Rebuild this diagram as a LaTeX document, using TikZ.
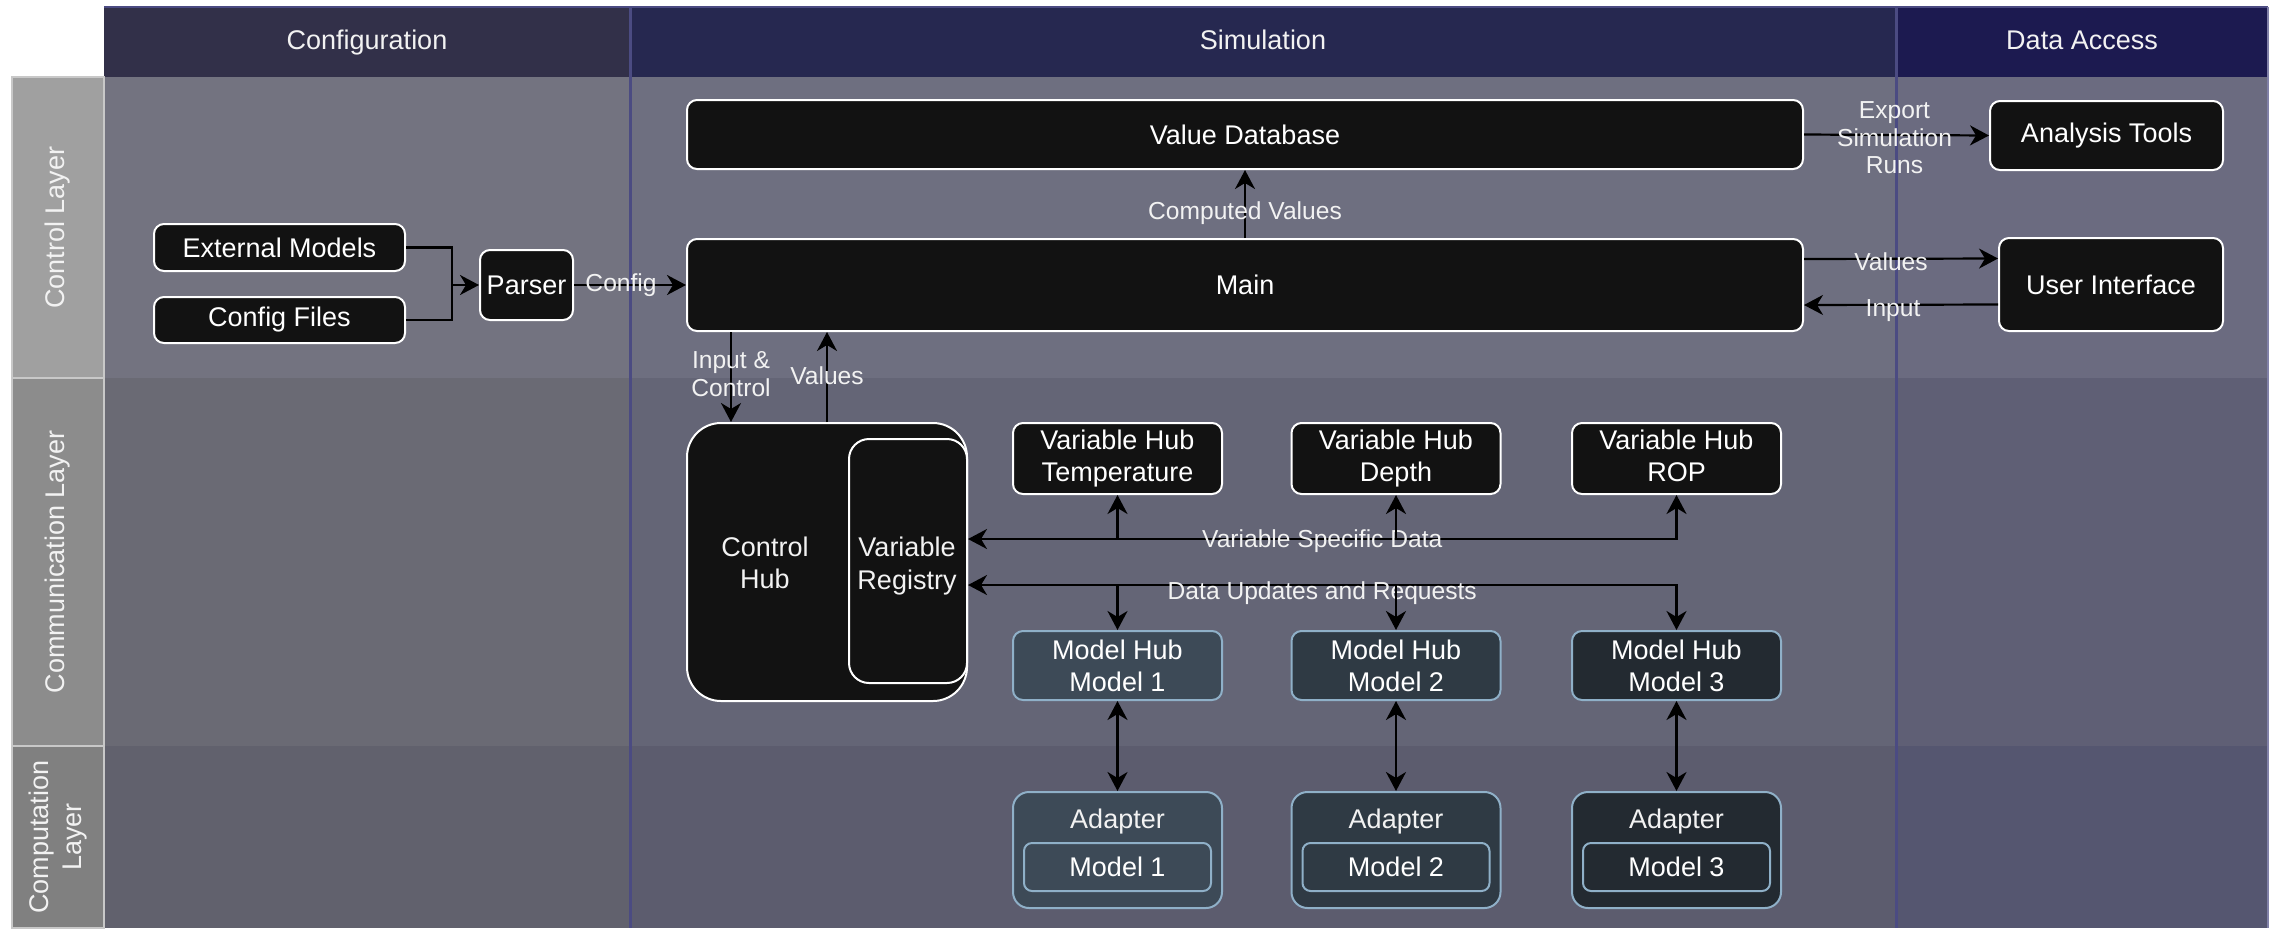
\documentclass[tikz,border=0pt]{standalone}
\usepackage{fontspec}
\setmainfont{Liberation Sans}
\usetikzlibrary{arrows.meta,calc}
\definecolor{hConf}{HTML}{323049}
\definecolor{hSim}{HTML}{262850}
\definecolor{hData}{HTML}{1C1A50}
\definecolor{bCtlConf}{HTML}{737380}
\definecolor{bCtlSim}{HTML}{6E6F80}
\definecolor{bCtlData}{HTML}{6B6B80}
\definecolor{bComConf}{HTML}{6A6A74}
\definecolor{bComSim}{HTML}{646576}
\definecolor{bComData}{HTML}{5F5F75}
\definecolor{bCmpConf}{HTML}{61616D}
\definecolor{bCmpSim}{HTML}{5C5C6E}
\definecolor{bCmpData}{HTML}{555670}
\definecolor{sepline}{HTML}{4B4B82}
\definecolor{lblCtl}{HTML}{A0A0A0}
\definecolor{lblCom}{HTML}{8C8C8C}
\definecolor{lblCmp}{HTML}{808080}
\definecolor{lblEdge}{HTML}{C8C8C8}
\definecolor{boxblack}{HTML}{121212}
\definecolor{mhA}{HTML}{3D4A57}
\definecolor{mhB}{HTML}{2F3A44}
\definecolor{mhC}{HTML}{232A31}
\definecolor{mhborder}{HTML}{8FB0C8}
\definecolor{lighttext}{HTML}{F2F2F2}
\newcommand{\mybigfont}{\fontsize{13.5}{16.2}\selectfont}
\newcommand{\mylblfont}{\fontsize{12.3}{13.8}\selectfont}
\begin{document}
\begin{tikzpicture}[x=0.5pt,y=-0.5pt,
  blackbox/.style={draw=white, line width=1pt, fill=boxblack, rounded corners=5pt, text=white, font=\mybigfont, align=center, inner sep=0pt},
  hubbox/.style={draw=mhborder, line width=1pt, rounded corners=5pt, text=white, font=\mybigfont, align=center, inner sep=0pt},
  hdr/.style={inner sep=0pt, text=lighttext, font=\mybigfont, minimum height=35pt, text height=10pt, text depth=3pt},
  layerlbl/.style={draw=lblEdge, line width=0.6pt, rotate=90, inner sep=0pt, text=lighttext, font=\mybigfont, align=center, minimum height=46pt},
  elabel/.style={text=lighttext, font=\mylblfont, align=center, inner sep=0pt},
  plainline/.style={draw=black, line width=1.1pt},
  arr/.style={plainline, -{Stealth[length=9.5pt,width=10pt,inset=3pt]}},
  biarr/.style={plainline, {Stealth[length=9.5pt,width=10pt,inset=3pt]}-{Stealth[length=9.5pt,width=10pt,inset=3pt]}}
]
\useasboundingbox (0,0) rectangle (2275,928);
\fill[white] (0,0) rectangle (2275,928);
% lane bodies
\fill[bCtlConf] (104,77) rectangle (630,378);
\fill[bCtlSim] (630,77) rectangle (1896,378);
\fill[bCtlData] (1896,77) rectangle (2268,378);
\fill[bComConf] (104,378) rectangle (630,746);
\fill[bComSim] (630,378) rectangle (1896,746);
\fill[bComData] (1896,378) rectangle (2268,746);
\fill[bCmpConf] (104,746) rectangle (630,928);
\fill[bCmpSim] (630,746) rectangle (1896,928);
\fill[bCmpData] (1896,746) rectangle (2268,928);
% headers
\node[hdr, fill=hConf, minimum width=263pt] (hconf) at (367,42) {Configuration};
\node[hdr, fill=hSim, minimum width=633pt] (hsim) at (1263,42) {Simulation};
\node[hdr, fill=hData, minimum width=186pt] (hdata) at (2082,42) {Data Access};
\draw[sepline, line width=1.2pt] (104,7) -- (2268,7);
\draw[sepline, line width=1.5pt] (630,7) -- (630,928);
\draw[sepline, line width=1.5pt] (1896,7) -- (1896,928);
\draw[sepline!70!white, line width=1pt] (2268,7) -- (2268,928);
% layer labels
\node[layerlbl, fill=lblCtl, minimum width=150.5pt] (lctl) at (58,227.5) {Control Layer};
\node[layerlbl, fill=lblCom, minimum width=184pt] (lcom) at (58,562) {Communication Layer};
\node[layerlbl, fill=lblCmp, minimum width=91pt] (lcmp) at (58,837) {Computation\\Layer};
% control layer boxes
\node[blackbox, minimum width=125.5pt, minimum height=23.5pt] (ext) at (279.5,247.5) {External Models};
\node[blackbox, minimum width=125.5pt, minimum height=23pt] (cfg) at (279.5,320) {Config Files};
\node[blackbox, minimum width=46.5pt, minimum height=35pt] (parser) at (526.5,285) {Parser};
\node[blackbox, minimum width=558pt, minimum height=34.5pt] (vdb) at (1245,134.5) {Value Database};
\node[blackbox, minimum width=558pt, minimum height=46pt] (main) at (1245,285) {Main};
\node[blackbox, minimum width=116.5pt, minimum height=34.5pt] (ana) at (2106.5,135.5) {Analysis Tools};
\node[blackbox, minimum width=112pt, minimum height=46.5pt] (ui) at (2111,284.5) {User Interface};
% communication layer
\node[blackbox, rounded corners=17pt, minimum width=140pt, minimum height=139pt] (chub) at (827,562) {};
\node[elabel, font=\mybigfont] (chubtxt) at (765,563) {Control\\Hub};
\node[blackbox, rounded corners=10pt, minimum width=59pt, minimum height=122pt] (vreg) at (908,561) {};
\node[elabel, font=\mybigfont] (vregtxt) at (907,566) {Variable\\Registry};
\node[blackbox, minimum width=104.5pt, minimum height=35.5pt] (vh1) at (1117.5,458.5) {Variable Hub\\Temperature};
\node[blackbox, minimum width=104.5pt, minimum height=35.5pt] (vh2) at (1396,458.5) {Variable Hub\\Depth};
\node[blackbox, minimum width=104.5pt, minimum height=35.5pt] (vh3) at (1676.5,458.5) {Variable Hub\\ROP\vphantom{p}};
\node[hubbox, fill=mhA, minimum width=104.5pt, minimum height=34.5pt, text depth=-2pt] (mh1) at (1117.5,665.5) {Model Hub\\Model 1};
\node[hubbox, fill=mhB, minimum width=104.5pt, minimum height=34.5pt, text depth=-2pt] (mh2) at (1396,665.5) {Model Hub\\Model 2};
\node[hubbox, fill=mhC, minimum width=104.5pt, minimum height=34.5pt, text depth=-2pt] (mh3) at (1676.5,665.5) {Model Hub\\Model 3};
% computation layer
\node[hubbox, fill=mhA, rounded corners=8pt, minimum width=104.5pt, minimum height=58pt] (ad1) at (1117.5,850) {};
\node[hubbox, fill=mhB, rounded corners=8pt, minimum width=104.5pt, minimum height=58pt] (ad2) at (1396,850) {};
\node[hubbox, fill=mhC, rounded corners=8pt, minimum width=104.5pt, minimum height=58pt] (ad3) at (1676.5,850) {};
\node[elabel, font=\mybigfont] (ad1t) at (1117.5,822) {Adapter};
\node[elabel, font=\mybigfont] (ad2t) at (1396,822) {Adapter};
\node[elabel, font=\mybigfont] (ad3t) at (1676.5,822) {Adapter};
\node[hubbox, fill=mhA, rounded corners=4pt, minimum width=93.5pt, minimum height=24pt] (m1) at (1117.5,867) {Model 1};
\node[hubbox, fill=mhB, rounded corners=4pt, minimum width=93.5pt, minimum height=24pt] (m2) at (1396,867) {Model 2};
\node[hubbox, fill=mhC, rounded corners=4pt, minimum width=93.5pt, minimum height=24pt] (m3) at (1676.5,867) {Model 3};
% connectors
\coordinate (merge) at (452,285);
\draw[plainline] (ext.east) -| (merge);
\draw[plainline] (cfg.east) -| (merge);
\draw[arr] (merge) -- (parser.west);
\draw[arr] (parser.east) -- node[elabel, pos=0.42]{Config} (main.west);
\draw[arr] (main.north) -- node[elabel, yshift=-4.5pt]{Computed Values} (vdb.south);
\draw[arr] (vdb.east) -- node[elabel, xshift=-1pt, yshift=-1.5pt]{Export\\Simulation\\Runs} (ana.west);
\draw[arr] ([yshift=13pt]main.east) -- node[elabel, xshift=-5pt, yshift=-1.5pt]{Values} ([yshift=13pt]ui.west);
\draw[arr] ([yshift=-10pt]ui.west) -- node[elabel, xshift=-4pt, yshift=-3pt]{Input} ([yshift=-10pt]main.east);
\coordinate (ic) at ([xshift=-48pt]chub.north);
\draw[arr] (ic |- main.south) -- node[elabel, yshift=1.5pt]{Input \&\\Control} (ic);
\draw[arr] (chub.north) -- node[elabel, yshift=0.5pt]{Values} (chub.north |- main.south);
\coordinate (vsd) at ([yshift=11pt]vreg.east);
\draw[biarr] (vh3.south) |- node[elabel, pos=0.75, yshift=-1pt]{Variable Specific Data} (vsd);
\draw[arr] (vsd -| vh1.south) -- (vh1.south);
\draw[arr] (vsd -| vh2.south) -- (vh2.south);
\coordinate (dur) at ([yshift=-12pt]vreg.east);
\draw[biarr] (mh3.north) |- node[elabel, pos=0.75, yshift=-4pt]{Data Updates and Requests} (dur);
\draw[arr] (dur -| mh1.north) -- (mh1.north);
\draw[arr] (dur -| mh2.north) -- (mh2.north);
\draw[biarr] (mh1.south) -- (ad1.north);
\draw[biarr] (mh2.south) -- (ad2.north);
\draw[biarr] (mh3.south) -- (ad3.north);
\end{tikzpicture}
\end{document}
